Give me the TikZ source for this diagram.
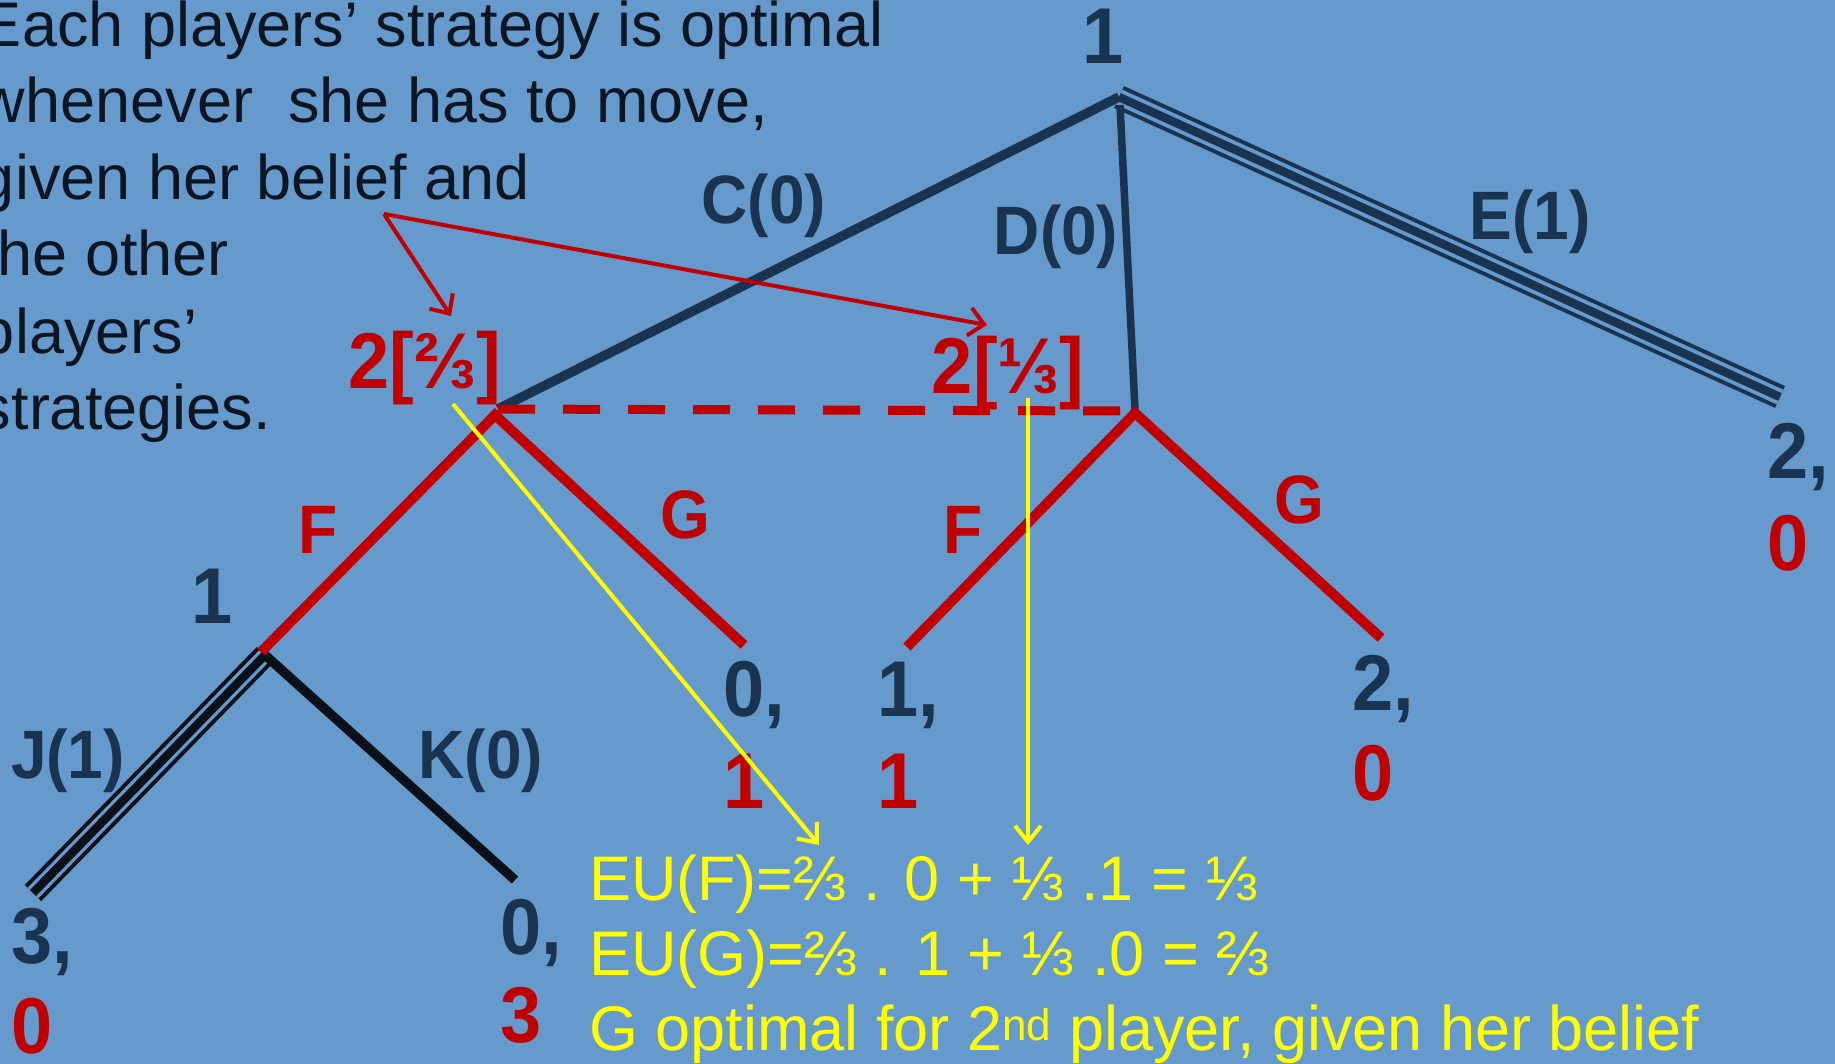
\documentclass[tikz,border=0pt]{standalone}
\usepackage{graphicx}
\usepackage{fontspec}
\setmainfont{Liberation Sans}
\usetikzlibrary{arrows.meta}
\definecolor{bgblue}{RGB}{102,153,204}
\definecolor{navy}{RGB}{26,51,80}
\definecolor{inkdark}{RGB}{12,22,35}
\definecolor{jkblack}{RGB}{10,17,26}
\definecolor{ptred}{RGB}{192,0,0}
\definecolor{ylw}{RGB}{255,255,0}
\newcommand\tallbox[1]{\scalebox{1}[1.07]{#1}}
\begin{document}
\begin{tikzpicture}[x=1pt,y=-1pt,
  every node/.style={inner sep=0pt, outer sep=0pt},
  body/.style={font=\fontsize{63}{76}\selectfont, text=inkdark, anchor=base west},
  elab/.style={font=\bfseries\fontsize{64}{64}\selectfont, text=navy, anchor=base},
  rlab/.style={font=\bfseries\fontsize{64}{64}\selectfont, text=ptred, anchor=base},
  plab/.style={font=\bfseries\fontsize{74}{74}\selectfont, text=navy, anchor=base},
  pnav/.style={font=\bfseries\fontsize{74}{74}\selectfont, text=navy, anchor=base west},
  pred/.style={font=\bfseries\fontsize{74}{74}\selectfont, text=ptred, anchor=base west},
  ytext/.style={font=\fontsize{63}{76}\selectfont, text=ylw, anchor=base west},
  navyline/.style={draw=navy, line cap=butt},
  redline/.style={draw=ptred, line width=10pt, line cap=butt, line join=miter},
  redarrow/.style={draw=ptred, line width=4pt, -{Straight Barb[length=15pt,width=28pt,line width=4pt]}},
  yarrow/.style={draw=ylw, line width=4pt, -{Straight Barb[length=16pt,width=26pt,line width=4pt]}},
]
\clip (0,0) rectangle (1835,1064);
\fill[bgblue] (0,0) rectangle (1835,1064);

% vertices and ends
\coordinate (root) at (1119,97);
\coordinate (rootD) at (1120,105);
\coordinate (vL) at (498,409);
\coordinate (vLr) at (495,415);
\coordinate (vR) at (1135,410);
\coordinate (vRr) at (1135,413);
\coordinate (dEnd) at (1124,411);
\coordinate (eE) at (1780,397);
\coordinate (vJ) at (265,655);
\coordinate (fL) at (261,652);
\coordinate (gL) at (744,645);
\coordinate (fR) at (907,647);
\coordinate (gR) at (1381,638);
\coordinate (jE) at (33,893);
\coordinate (kE) at (515,880);

% E triple line
\draw[navyline, line width=24pt] (root) -- (eE);
\draw[draw=bgblue, line width=16pt, line cap=butt] (root) -- (eE);
\draw[navyline, line width=8.5pt] (root) -- (eE);
% C and D
\draw[navyline, line width=9.5pt] (vL) -- (root);
\draw[navyline, line width=7.5pt] (rootD) -- (vR);

% J triple line and K
\draw[draw=jkblack, line width=23pt, line cap=butt] (vJ) -- (jE);
\draw[draw=bgblue, line width=15pt, line cap=butt] (vJ) -- (jE);
\draw[draw=jkblack, line width=8.5pt, line cap=butt] (vJ) -- (jE);
\draw[draw=jkblack, line width=9.5pt, line cap=butt] (vJ) -- (kE);

% red branches
\draw[redline] (fL) -- (vLr) -- (gL);
\draw[redline] (fR) -- (vRr) -- (gR);
\draw[draw=ptred, line width=9pt, dash pattern=on 37pt off 28pt] (vL) -- (dEnd);

% top-left text
\node[body] (t1) at (-20,47) {Each players’ strategy is optimal};
\node[body] (t2) at (-20,123) {whenever\ \ she has to move,};
\node[body] (t3) at (-20,200) {given her belief and};
\node[body] (t4) at (-20,276) {the other};
\node[body] (t5) at (-20,353) {players’};
\node[body] (t6) at (-20,429) {strategies.};

% player labels
\node[plab] (p1) at (1103,64) {\tallbox{1}};
\node[plab] (p1b) at (212,623) {\tallbox{1}};
\node[font=\bfseries\fontsize{74}{74}\selectfont, text=ptred, anchor=base east] (i1) at (501,388) {\tallbox{2[⅔]}};
\node[font=\bfseries\fontsize{74}{74}\selectfont, text=ptred, anchor=base east] (i2) at (1084,393) {\tallbox{2[⅓]}};

% edge labels
\node[elab] (lC) at (764,224) {\tallbox{C(0)}};
\node[elab] (lD) at (1056,255) {\tallbox{D(0)}};
\node[elab] (lE) at (1530,240) {\tallbox{E(1)}};
\node[rlab] (lF1) at (318,553) {\tallbox{F}};
\node[rlab] (lG1) at (685,538) {\tallbox{G}};
\node[rlab] (lF2) at (963,553) {\tallbox{F}};
\node[rlab] (lG2) at (1299,523) {\tallbox{G}};
\node[elab] (lJ) at (68,778) {\tallbox{J(1)}};
\node[elab] (lK) at (481,778) {\tallbox{K(0)}};

% payoffs
\node[pnav] (a1) at (1767,478) {\tallbox{2,}};
\node[pred] (a2) at (1767,570) {\tallbox{0}};
\node[pnav] (b1) at (723,716) {\tallbox{0,}};
\node[pred] (b2) at (723,808) {\tallbox{1}};
\node[pnav] (c1) at (877,716) {\tallbox{1,}};
\node[pred] (c2) at (877,808) {\tallbox{1}};
\node[pnav] (d1) at (1352,710) {\tallbox{2,}};
\node[pred] (d2) at (1352,800) {\tallbox{0}};
\node[pnav] (e1) at (11,963) {\tallbox{3,}};
\node[pred] (e2) at (11,1053) {\tallbox{0}};
\node[pnav] (f1) at (500,954) {\tallbox{0,}};
\node[pred] (f2) at (500,1042) {\tallbox{3}};

% yellow text
\node[ytext] (y1) at (589,900) {EU(F)=⅔ . 0 + ⅓ .1 = ⅓};
\node[ytext] (y2) at (589,975) {EU(G)=⅔ . 1 + ⅓ .0 = ⅔};
\node[ytext] (y3) at (589,1050) {G optimal for 2\textsuperscript{nd} player, given her belief};

% red arrows
\coordinate (ra0) at (384,214);
\coordinate (ra1) at (451,316);
\coordinate (ra2) at (987,325);
\draw[redarrow] (ra0) -- (ra1);
\draw[redarrow] (ra0) -- (ra2);

% yellow arrows
\coordinate (ya0) at (453,404);
\coordinate (ya1) at (819,845);
\coordinate (yb0) at (1028,398);
\coordinate (yb1) at (1028,845);
\draw[yarrow] (ya0) -- (ya1);
\draw[yarrow] (yb0) -- (yb1);
\end{tikzpicture}
\end{document}
